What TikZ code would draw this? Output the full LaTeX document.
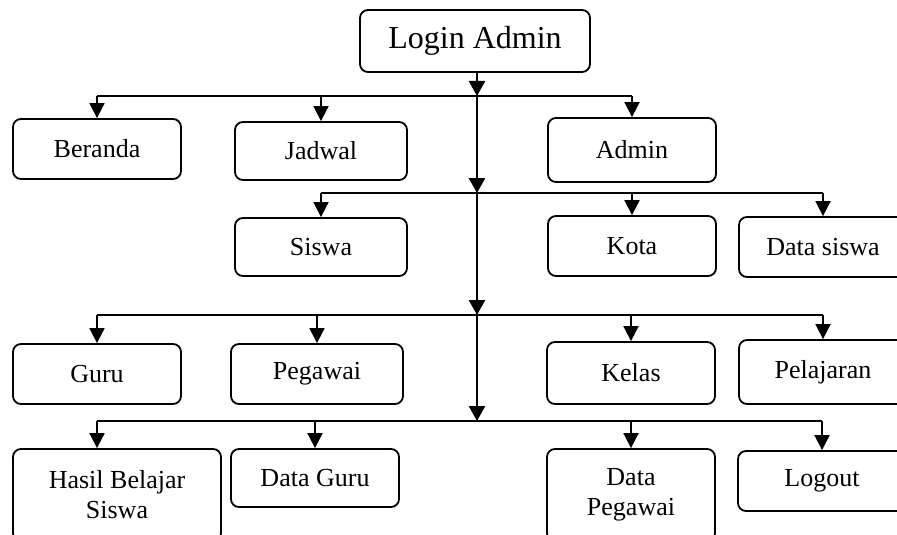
\documentclass[tikz,border=0pt]{standalone}
\usepackage{fontspec}
\setmainfont{Liberation Serif}
\usepackage{tikz}
\usetikzlibrary{arrows.meta, positioning, calc}

\begin{document}
\begin{tikzpicture}[
    x=0.5pt, y=-0.5pt,
    box/.style={rectangle, draw, rounded corners=4pt, line width=0.9pt, minimum width=84pt, minimum height=30pt, align=center, font=\fontsize{13}{15}\selectfont},
    arr/.style={-{Triangle[length=7.5pt, width=7.5pt]}, line width=0.9pt},
    trunk/.style={-{Triangle[length=7.5pt, width=8pt]}, line width=1.3pt},
    bus/.style={line width=0.9pt},
]
    \useasboundingbox (0,0) rectangle (897,534);
    \clip (0,0) rectangle (897,534);

    % menu boxes
    \node[box, minimum width=115pt, minimum height=31pt, font=\fontsize{16}{19}\selectfont] (login) at (475,41) {Login Admin};

    \node[box] (beranda) at (97,149) {Beranda};
    \node[box, minimum width=86pt, minimum height=29pt] (jadwal) at (321,151) {Jadwal};
    \node[box, minimum height=32pt] (admin) at (632,150) {Admin};

    \node[box, minimum width=86pt, minimum height=29pt] (siswa) at (321,247) {Siswa};
    \node[box] (kota) at (632,246) {Kota};
    \node[box] (datasiswa) at (823,247) {Data siswa};

    \node[box] (guru) at (97,374) {Guru};
    \node[box, minimum width=86pt] (pegawai) at (317,374) {Pegawai};
    \node[box, minimum height=31pt] (kelas) at (631,373) {Kelas};
    \node[box, minimum height=32pt] (pelajaran) at (823,372) {Pelajaran};

    \node[box, minimum width=104pt, minimum height=46pt] (hasil) at (117,495) {Hasil Belajar\\Siswa};
    \node[box, minimum height=29pt] (dataguru) at (315,478) {Data Guru};
    \node[box, minimum height=46pt] (datapegawai) at (631,495) {Data\\Pegawai};
    \node[box] (logout) at (822,481) {Logout};

    % trunk
    \coordinate (b1) at (477,96);
    \coordinate (b2) at (477,193);
    \coordinate (b3) at (477,315);
    \coordinate (b4) at (477,421);
    \draw[trunk] (login.south -| b1) -- (b1);
    \draw[trunk] (b1) -- (b2);
    \draw[trunk] (b2) -- (b3);
    \draw[trunk] (b3) -- (b4);

    % branch lines
    \draw[bus] (b1 -| beranda) -- (b1 -| admin);
    \draw[bus] (b2 -| siswa) -- (b2 -| datasiswa);
    \draw[bus] (b3 -| guru) -- (b3 -| pelajaran);
    \draw[bus] (b4 -| beranda) -- (b4 -| logout);

    \foreach \n in {beranda, jadwal, admin}
        \draw[arr] (b1 -| \n.north) -- (\n.north);
    \foreach \n in {siswa, kota, datasiswa}
        \draw[arr] (b2 -| \n.north) -- (\n.north);
    \foreach \n in {guru, pegawai, kelas, pelajaran}
        \draw[arr] (b3 -| \n.north) -- (\n.north);
    \coordinate (hasilin) at (hasil.north -| beranda);
    \draw[arr] (b4 -| hasilin) -- (hasilin);
    \foreach \n in {dataguru, datapegawai, logout}
        \draw[arr] (b4 -| \n.north) -- (\n.north);
\end{tikzpicture}
\end{document}
